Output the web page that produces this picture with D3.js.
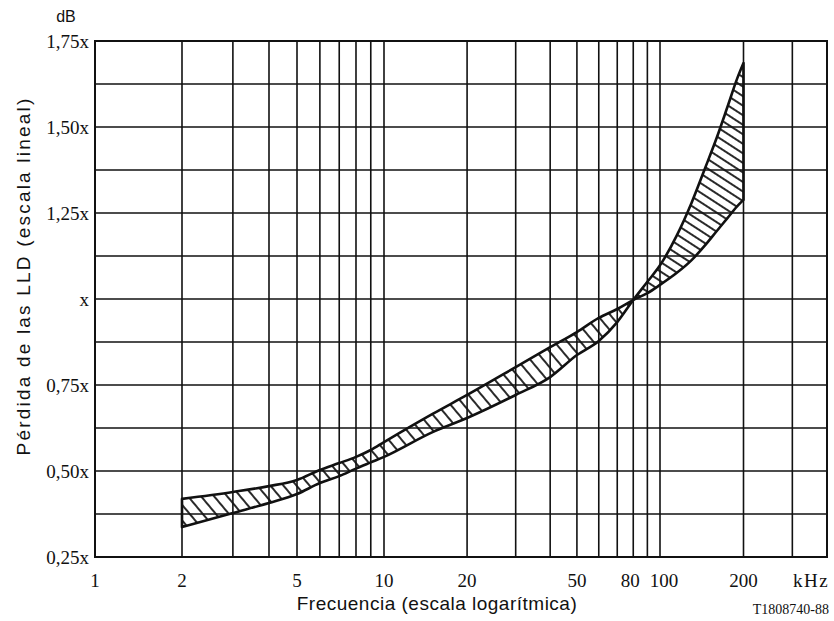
<!DOCTYPE html>
<html><head><meta charset="utf-8">
<script src="https://cdn.jsdelivr.net/npm/d3@7"></script>
<style>body{margin:0;background:#fff}</style>
</head><body>
<svg id="c" width="834" height="621"></svg>
<script>
// ---- data ----
const freqs  = [2,3,4,5,6,7,8,9,10,15,20,30,40,50,60,70,80,90,100,115,130,145,160,175,190,200];
const curveA = [0.419,0.439,0.456,0.474,0.503,0.523,0.541,0.561,0.584,0.666,0.721,0.802,0.860,0.904,0.945,0.971,0.997,1.017,1.041,1.076,1.113,1.155,1.197,1.235,1.270,1.288];
const curveB = [0.337,0.378,0.407,0.433,0.465,0.485,0.507,0.525,0.541,0.613,0.654,0.721,0.773,0.837,0.878,0.933,0.997,1.050,1.098,1.185,1.280,1.378,1.468,1.558,1.642,1.686];
const xGrid = [2,3,4,5,6,7,8,9,10,20,30,40,50,60,70,80,90,100,200,300];
const xTickVals = [1,2,5,10,20,50,80,100,200];
const xTickLabels = ["1","2","5","10","20","50","80","100","200"];
const yGrid = [0.375,0.5,0.625,0.75,0.875,1,1.125,1.25,1.375,1.5,1.625];
const yTickVals = [0.25,0.5,0.75,1,1.25,1.5,1.75];
const yTickLabels = ["0,25x","0,50x","0,75x","x","1,25x","1,50x","1,75x"];
const crossFreq = 80;

const svg = d3.select("#c");
const x = d3.scaleLog().domain([1,10,100,400]).range([95,384,660,827]);
const y = d3.scaleLinear().domain([0.25,1.75]).range([557,41]);
const X0 = x(1), X1 = x(400), Y0 = y(0.25), Y1 = y(1.75);

const defs = svg.append("defs");
function hatch(id, sp, ang){
  const p = defs.append("pattern").attr("id",id).attr("patternUnits","userSpaceOnUse")
    .attr("width",sp).attr("height",sp).attr("patternTransform",`rotate(${ang})`);
  p.append("line").attr("x1",0).attr("x2",sp).attr("y1",sp/2).attr("y2",sp/2)
    .attr("stroke","#111").attr("stroke-width",1.8);
}
hatch("hL",10,50);
hatch("hR",8,33);
defs.append("clipPath").attr("id","cL").append("rect")
  .attr("x",0).attr("y",0).attr("width",x(crossFreq)).attr("height",621);
defs.append("clipPath").attr("id","cR").append("rect")
  .attr("x",x(crossFreq)).attr("y",0).attr("width",834).attr("height",621);

// grid
const g = svg.append("g").attr("stroke","#111").attr("stroke-width",1.6);
g.selectAll(".vg").data(xGrid).join("line")
  .attr("x1",d=>x(d)).attr("x2",d=>x(d)).attr("y1",Y1).attr("y2",Y0);
g.selectAll(".hg").data(yGrid).join("line")
  .attr("x1",X0).attr("x2",X1).attr("y1",d=>y(d)).attr("y2",d=>y(d));
g.append("rect").attr("x",X0).attr("y",Y1).attr("width",X1-X0).attr("height",Y0-Y1)
  .attr("fill","none").attr("stroke-width",2);

// band
const pts = freqs.map((f,i)=>({f, a:curveA[i], b:curveB[i]}));
const area = d3.area().x(d=>x(d.f)).y0(d=>y(d.b)).y1(d=>y(d.a)).curve(d3.curveMonotoneX);
svg.append("path").datum(pts).attr("d",area).attr("fill","url(#hL)").attr("clip-path","url(#cL)");
svg.append("path").datum(pts).attr("d",area).attr("fill","url(#hR)").attr("clip-path","url(#cR)");
svg.append("path").datum(pts).attr("d",area).attr("fill","none")
  .attr("stroke","#111").attr("stroke-width",2.6).attr("stroke-linejoin","round");

// y tick labels
svg.append("g").selectAll("text").data(yTickVals).join("text")
  .attr("x",89).attr("y",d=>y(d)+7).attr("text-anchor","end")
  .attr("font-family","Liberation Serif").attr("font-size",19).attr("fill","#111")
  .text((d,i)=>yTickLabels[i]);
// x tick labels
svg.append("g").selectAll("text").data(xTickVals).join("text")
  .attr("x",d=>x(d)+ (d===80?-3:d===100?4:0)).attr("y",587).attr("text-anchor","middle")
  .attr("font-family","Liberation Serif").attr("font-size",19).attr("fill","#111")
  .text((d,i)=>xTickLabels[i]);
svg.append("text").attr("x",811).attr("y",587).attr("text-anchor","middle")
  .attr("font-family","Liberation Serif").attr("font-size",19).attr("letter-spacing",1.5).attr("fill","#111").text("kHz");
svg.append("text").attr("x",66).attr("y",22).attr("text-anchor","middle")
  .attr("font-family","Liberation Sans").attr("font-size",16).attr("fill","#111").text("dB");
svg.append("text").attr("x",437).attr("y",610).attr("text-anchor","middle")
  .attr("font-family","Liberation Sans").attr("font-size",19).attr("letter-spacing",0.5).attr("fill","#111")
  .text("Frecuencia (escala logarítmica)");
svg.append("text").attr("x",829).attr("y",614).attr("text-anchor","end")
  .attr("font-family","Liberation Serif").attr("font-size",14).attr("fill","#111").text("T1808740-88");
svg.append("text").attr("transform","translate(30,276) rotate(-90)").attr("text-anchor","middle")
  .attr("font-family","Liberation Sans").attr("font-size",19).attr("letter-spacing",2.2).attr("fill","#111")
  .text("Pérdida de las LLD (escala lineal)");
</script>
</body></html>
